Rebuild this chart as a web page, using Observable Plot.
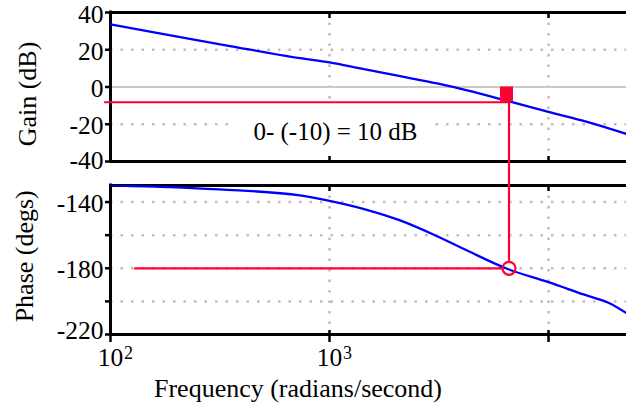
<!DOCTYPE html>
<html><head><meta charset="utf-8">
<script src="https://cdn.jsdelivr.net/npm/d3@7"></script>
<script src="https://cdn.jsdelivr.net/npm/@observablehq/plot@0.6"></script>
<style>
html,body{margin:0;padding:0;background:#fff;}
#chart{width:626px;height:404px;overflow:hidden;}
#chart svg{display:block;overflow:hidden;}
</style></head><body><div id="chart"></div>
<script>
// ---- data ----
const freqGain = [100, 156, 351, 733, 1000, 1380, 2100, 3100, 4250, 6240, 10000, 15000, 22700];
const gainDb   = [33.6, 29.5, 22.0, 15.5, 13.2, 10.0, 5.8, 1.9, -1.8, -6.9, -13.4, -18.7, -25.2];
const freqPhase = [100, 112, 170, 315, 733, 1000, 1480, 2100, 2980, 4250, 6470, 10000, 14450, 19200, 22700];
const phaseDeg  = [-129.7, -130.1, -130.8, -132.4, -136.0, -139.3, -144.7, -151.1, -159.6, -169.3, -180.3, -188.4, -195.8, -201.4, -207.1];
const freqTicks = [100, 1000, 10000];
const freqTickBase = ["10", "10", ""];
const freqTickExponent = ["2", "3", ""];
const gainTicks = [40, 20, 0, -20, -40];
const gainTickLabels = ["40", "20", "0", "-20", "-40"];
const phaseTicks = [-140, -160, -180, -200, -220];
const phaseTickLabels = ["-140", "", "-180", "", "-220"];
const freqDomain = [100, 22700];
const gainDomain = [-40, 40];
const phaseDomain = [-220, -130];
const crossoverFreq = 6600;      // phase crossover frequency
const gainAtCrossover = -8.2;    // gain read at that frequency
const phaseCrossover = -180;
const gainLineStartFreq = 94;
const phaseLineStartFreq = 129;
const annotation = "0- (-10) = 10 dB";

// ---- helpers ----
const RED = "#ff0033", BLUE = "#0000ff";
const FONT = "'Liberation Serif', 'Times New Roman', serif";
const style = {fontFamily: FONT, fontSize: "25.5px", background: "white", overflow: "hidden"};
const grid = {stroke: "#bdbdbd", strokeOpacity: 1, strokeWidth: 2.5, strokeDasharray: "2.5,8"};
const lbl = (ticks, labels) => d => labels[ticks.indexOf(d)];
const none = () => "";
const gainRows = freqGain.map((f, i) => ({f, v: gainDb[i]}));
const phaseRows = freqPhase.map((f, i) => ({f, v: phaseDeg[i]}));
const inner = freqTicks.slice(1);

const gainPlot = Plot.plot({
  width: 626, height: 176, marginLeft: 110, marginRight: 0, marginTop: 12, marginBottom: 15,
  style,
  x: {type: "log", domain: freqDomain},
  y: {domain: gainDomain},
  marks: [
    Plot.gridY(gainTicks.filter(d => d !== 0 && Math.abs(d) !== 40), grid),
    Plot.gridX(inner, grid),
    Plot.ruleY([0], {stroke: "#c8c8c8", strokeWidth: 2}),
    Plot.text([annotation], {frameAnchor: "bottom", lineAnchor: "middle", textAnchor: "middle", dx: -33, dy: -30, fontSize: 25, fill: "black",
      stroke: "white", strokeWidth: 40, strokeLinejoin: "round", paintOrder: "stroke"}),
    Plot.ruleY(gainDomain, {strokeWidth: 3}),
    Plot.ruleX([freqDomain[0]], {strokeWidth: 3, strokeLinecap: "square"}),
    Plot.axisY(gainTicks, {tickSize: 5, tickFormat: none, label: null, strokeWidth: 2.5}),
    Plot.axisY(gainTicks.slice(0, 4), {tickSize: 0, tickPadding: 7, tickFormat: lbl(gainTicks, gainTickLabels), label: null, dy: 2}),
    Plot.axisY(gainTicks.slice(4), {tickSize: 0, tickPadding: 7, tickFormat: lbl(gainTicks, gainTickLabels), label: null, dy: -1}),
    Plot.axisX(inner, {anchor: "top", tickSize: -5, tickFormat: none, label: null, strokeWidth: 2.5}),
    Plot.axisX(inner, {anchor: "bottom", tickSize: -5, tickFormat: none, label: null, strokeWidth: 2.5}),
    Plot.text(["Gain (dB)"], {frameAnchor: "left", textAnchor: "middle", lineAnchor: "middle", rotate: -90, dx: -82.5, dy: 7, fontSize: 26}),
    Plot.line(gainRows, {x: "f", y: "v", stroke: BLUE, strokeWidth: 2.3, curve: "monotone-x", clip: true}),
    Plot.ruleY([gainAtCrossover], {x1: gainLineStartFreq, x2: crossoverFreq, stroke: RED, strokeWidth: 2.2}),
    Plot.ruleX([crossoverFreq], {y1: gainAtCrossover, y2: -60, stroke: RED, strokeWidth: 2.2}),
    Plot.ruleX([crossoverFreq], {y1: 0, y2: gainAtCrossover, stroke: RED, strokeWidth: 13, dx: -2.5})
  ]
});

const phasePlot = Plot.plot({
  width: 626, height: 228, marginLeft: 110, marginRight: 0, marginTop: 9, marginBottom: 70,
  style,
  x: {type: "log", domain: freqDomain},
  y: {domain: phaseDomain},
  marks: [
    Plot.gridY(phaseTicks.slice(0, 4), grid),
    Plot.gridX(inner, grid),
    Plot.ruleY(phaseDomain, {strokeWidth: 3}),
    Plot.ruleX([freqDomain[0]], {strokeWidth: 3, strokeLinecap: "square"}),
    Plot.axisY(phaseTicks, {tickSize: 5, tickFormat: none, label: null, strokeWidth: 2.5}),
    Plot.axisY(phaseTicks.slice(0, 4), {tickSize: 0, tickPadding: 7, tickFormat: lbl(phaseTicks, phaseTickLabels), label: null, dy: 1.5}),
    Plot.axisY(phaseTicks.slice(4), {tickSize: 0, tickPadding: 7, tickFormat: lbl(phaseTicks, phaseTickLabels), label: null, dy: -3.5}),
    Plot.axisX(inner, {anchor: "top", tickSize: -5, tickFormat: none, label: null, strokeWidth: 2.5}),
    Plot.axisX(inner, {anchor: "bottom", tickSize: -4, tickFormat: none, label: null, strokeWidth: 2.5}),
    Plot.axisX(freqTicks, {anchor: "bottom", tickSize: 8, tickFormat: none, label: null, strokeWidth: 2.5}),
    Plot.axisX(freqTicks, {anchor: "bottom", tickSize: 0, tickPadding: 13.6, tickFormat: lbl(freqTicks, freqTickBase), label: null}),
    Plot.axisX(freqTicks, {anchor: "bottom", tickSize: 0, tickPadding: 11.9, tickFormat: lbl(freqTicks, freqTickExponent), label: null, dx: 18, fontSize: 18}),
    Plot.text(["Frequency (radians/second)"], {frameAnchor: "bottom", lineAnchor: "middle", textAnchor: "middle", dx: -70.5, dy: 54.4, fontSize: 26}),
    Plot.text(["Phase (degs)"], {frameAnchor: "left", textAnchor: "middle", lineAnchor: "middle", rotate: -90, dx: -86, dy: -3.7, fontSize: 26}),
    Plot.ruleY([phaseCrossover], {x1: phaseLineStartFreq, x2: crossoverFreq, stroke: RED, strokeWidth: 2.2}),
    Plot.ruleX([crossoverFreq], {y1: phaseCrossover, y2: -100, stroke: RED, strokeWidth: 2.2}),
    Plot.dot([{f: crossoverFreq, v: phaseCrossover}], {x: "f", y: "v", r: 6.5, fill: "white", stroke: "none"}),
    Plot.line(phaseRows, {x: "f", y: "v", stroke: BLUE, strokeWidth: 2.3, curve: "monotone-x", clip: true}),
    Plot.dot([{f: crossoverFreq, v: phaseCrossover}], {x: "f", y: "v", r: 6.5, fill: "none", stroke: RED, strokeWidth: 2.2})
  ]
});

const chart = document.getElementById("chart");
chart.appendChild(gainPlot);
chart.appendChild(phasePlot);
</script></body></html>
